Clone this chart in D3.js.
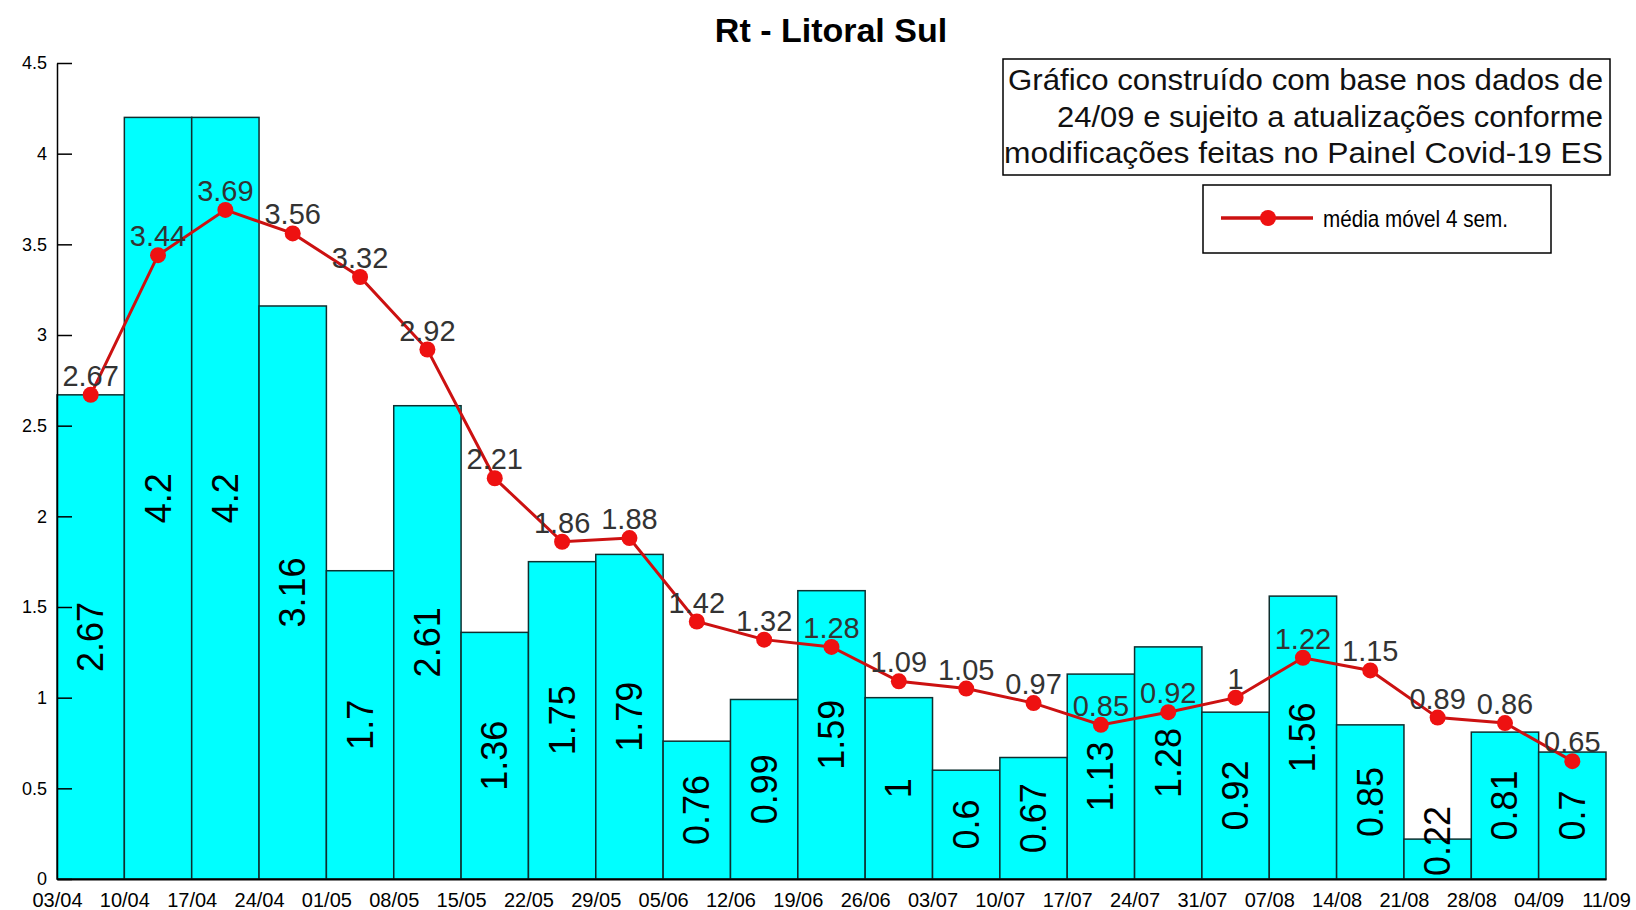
<!DOCTYPE html>
<html>
<head>
<meta charset="utf-8">
<script src="https://cdn.jsdelivr.net/npm/d3@7"></script>
<style>
  body { margin: 0; background: #fff; }
  text { font-family: "Liberation Sans", Arial, sans-serif; }
</style>
</head>
<body>
<script>
// weekly Rt and 4-week moving average
const dates = ['03/04','10/04','17/04','24/04','01/05','08/05','15/05','22/05','29/05','05/06','12/06','19/06',
  '26/06','03/07','10/07','17/07','24/07','31/07','07/08','14/08','21/08','28/08','04/09','11/09'];
const rtValues = [2.67, 4.2, 4.2, 3.16, 1.7, 2.61, 1.36, 1.75, 1.79, 0.76, 0.99, 1.59,
  1, 0.6, 0.67, 1.13, 1.28, 0.92, 1.56, 0.85, 0.22, 0.81, 0.7];
const movingAvg = [2.67, 3.44, 3.69, 3.56, 3.32, 2.92, 2.21, 1.86, 1.88, 1.42, 1.32, 1.28,
  1.09, 1.05, 0.97, 0.85, 0.92, 1, 1.22, 1.15, 0.89, 0.86, 0.65];
const yTicks = [0, 0.5, 1, 1.5, 2, 2.5, 3, 3.5, 4, 4.5];
const noteLines = ['Gráfico construído com base nos dados de', '24/09 e sujeito a atualizações conforme',
  'modificações feitas no Painel Covid-19 ES'];

const svgWidth = 1636;
const svgHeight = 910;
const plot = { left: 57, right: 1606, bottom: 879, top: 63 };

const svg = d3.select('body').append('svg')
  .attr('width', svgWidth)
  .attr('height', svgHeight);

const x = d3.scaleBand().domain(d3.range(rtValues.length)).range([plot.left, plot.right]).padding(0);
const xEdge = d3.scalePoint().domain(dates).range([plot.left, plot.right]);
const y = d3.scaleLinear().domain([0, 4.5]).range([plot.bottom, plot.top]);

// bars
svg.append('g').selectAll('rect')
  .data(rtValues)
  .join('rect')
    .attr('x', (d, i) => x(i))
    .attr('y', d => y(d))
    .attr('width', x.bandwidth())
    .attr('height', d => plot.bottom - y(d))
    .attr('fill', '#00ffff')
    .attr('stroke', '#0f2f2f')
    .attr('stroke-width', 1.5);

// bar labels, rotated
svg.append('g').selectAll('text')
  .data(rtValues)
  .join('text')
    .attr('transform', (d, i) => {
      const cy = Math.min((y(d) + plot.bottom) / 2, plot.bottom - 38);
      return `translate(${x(i) + x.bandwidth() / 2},${cy}) rotate(-90)`;
    })
    .attr('text-anchor', 'middle')
    .attr('dominant-baseline', 'central')
    .attr('font-size', 36)
    .attr('fill', '#000')
    .text(d => d);

// axes
const yAxis = d3.axisLeft(y).tickValues(yTicks).tickSizeInner(-15).tickSizeOuter(0).tickPadding(10)
  .tickFormat(d => d);
svg.append('g')
  .attr('transform', `translate(${plot.left},0)`)
  .call(yAxis)
  .call(g => g.selectAll('text').attr('font-size', 18).attr('fill', '#000').attr('font-family', null))
  .call(g => g.selectAll('line, path').attr('stroke', '#000').attr('stroke-width', 1.5));

const xAxis = d3.axisBottom(xEdge).tickSize(0).tickPadding(14);
svg.append('g')
  .attr('transform', `translate(0,${plot.bottom})`)
  .call(xAxis)
  .call(g => g.selectAll('text').attr('font-size', 20).attr('fill', '#000').attr('font-family', null))
  .call(g => g.select('.domain').attr('stroke', '#000').attr('stroke-width', 2));

// moving average line
const line = d3.line()
  .x((d, i) => x(i) + x.bandwidth() / 2)
  .y(d => y(d));

svg.append('path')
  .datum(movingAvg)
  .attr('fill', 'none')
  .attr('stroke', '#cc1111')
  .attr('stroke-width', 3)
  .attr('d', line);

svg.append('g').selectAll('circle')
  .data(movingAvg)
  .join('circle')
    .attr('cx', (d, i) => x(i) + x.bandwidth() / 2)
    .attr('cy', d => y(d))
    .attr('r', 8)
    .attr('fill', '#ee1111');

svg.append('g').selectAll('text')
  .data(movingAvg)
  .join('text')
    .attr('x', (d, i) => x(i) + x.bandwidth() / 2)
    .attr('y', d => y(d) - 9)
    .attr('text-anchor', 'middle')
    .attr('font-size', 29)
    .attr('fill', '#333')
    .text(d => d);

// title
svg.append('text')
  .attr('x', 831)
  .attr('y', 42)
  .attr('text-anchor', 'middle')
  .attr('font-size', 34)
  .attr('font-weight', 'bold')
  .text('Rt - Litoral Sul');

// note box
svg.append('rect')
  .attr('x', 1003).attr('y', 59).attr('width', 607).attr('height', 116)
  .attr('fill', '#fff').attr('stroke', '#000').attr('stroke-width', 1.5);
const noteWidths = [595, 546, 599];
svg.append('g').selectAll('text')
  .data(noteLines)
  .join('text')
    .attr('x', 1603)
    .attr('y', (d, i) => 90 + i * 36.5)
    .attr('text-anchor', 'end')
    .attr('font-size', 29)
    .attr('fill', '#111')
    .attr('textLength', (d, i) => noteWidths[i])
    .attr('lengthAdjust', 'spacingAndGlyphs')
    .text(d => d);

// legend
const legend = svg.append('g');
legend.append('rect')
  .attr('x', 1203).attr('y', 185).attr('width', 348).attr('height', 68)
  .attr('fill', '#fff').attr('stroke', '#000').attr('stroke-width', 1.5);
legend.append('line')
  .attr('x1', 1221).attr('x2', 1313).attr('y1', 218).attr('y2', 218)
  .attr('stroke', '#cc1111').attr('stroke-width', 3.5);
legend.append('circle')
  .attr('cx', 1268).attr('cy', 218).attr('r', 8).attr('fill', '#ee1111');
legend.append('text')
  .attr('x', 1323).attr('y', 227)
  .attr('font-size', 24)
  .attr('textLength', 185)
  .attr('lengthAdjust', 'spacingAndGlyphs')
  .text('média móvel 4 sem.');
</script>
</body>
</html>
